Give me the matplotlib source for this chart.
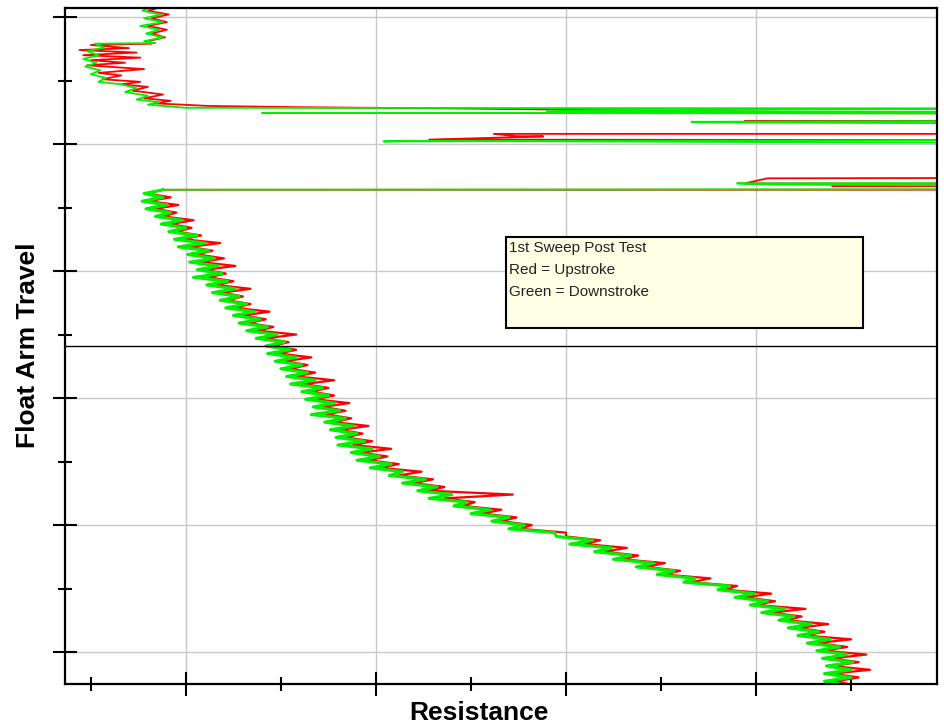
import matplotlib
matplotlib.use("Agg")
import matplotlib.pyplot as plt
from matplotlib.patches import Rectangle

plt.rcParams['font.family'] = ['Liberation Sans', 'DejaVu Sans']

# upper part of the sweeps (incl. the off-scale excursions, 300 = off scale)
green_top_res = [41, 38.5, 43.5, 39, 44, 38, 43, 39.5, 44, 39,
                 42, 26, 28.5, 24, 27, 23, 26.5, 23.5, 27.5, 25,
                 29, 27, 33, 37, 34, 40, 37, 43, 40, 44,
                 50, 300, 156, 145, 300, 70, 300,
                 300, 183, 186, 300,
                 300, 102, 110, 300,
                 300, 195, 204, 300, 300]
green_top_travel = [50.8, 50.5, 50.2, 49.9, 49.6, 49.3, 49.0, 48.7, 48.4, 48.1,
                    47.95, 47.9, 47.6, 47.3, 47.0, 46.7, 46.4, 46.1, 45.8, 45.5,
                    45.2, 44.9, 44.7, 44.4, 44.1, 43.8, 43.5, 43.3, 43.1, 43.0,
                    42.85, 42.8, 42.65, 42.55, 42.5, 42.45, 42.4,
                    41.85, 41.75, 41.7, 41.6,
                    40.35, 40.2, 40.25, 40.05,
                    36.95, 36.9, 36.8, 36.7, 36.45]

red_top_res = [44, 40, 45.5, 41, 45, 40, 45, 41, 44.5, 40,
               41, 25, 35, 22, 37, 23, 38, 25, 34, 24,
               39, 27, 33, 28, 38, 33, 40, 36, 44, 39,
               46, 42, 56, 80, 120, 217, 147, 300,
               300, 197, 217, 300,
               300, 131, 137, 144, 114, 300,
               300, 203, 197, 300,
               300, 220, 300, 300]
red_top_travel = [50.8, 50.5, 50.2, 49.9, 49.6, 49.3, 49.0, 48.7, 48.4, 48.1,
                  47.9, 47.8, 47.55, 47.4, 47.2, 47.0, 46.8, 46.6, 46.4, 46.2,
                  45.9, 45.6, 45.4, 45.1, 44.9, 44.7, 44.5, 44.2, 43.9, 43.6,
                  43.4, 43.2, 43.0, 42.9, 42.8, 42.5, 42.45, 42.4,
                  41.85, 41.8, 41.8, 41.75,
                  40.8, 40.8, 40.62, 40.6, 40.35, 40.3,
                  37.35, 37.3, 36.9, 36.85,
                  36.7, 36.68, 36.65, 36.4]

# main sweep
main_travel = [36.4, 36.1, 35.8, 35.5, 35.2, 34.9, 34.6, 34.3, 34.0, 33.7,
               33.4, 33.1, 32.8, 32.5, 32.2, 31.9, 31.6, 31.3, 31.0, 30.7,
               30.4, 30.1, 29.8, 29.5, 29.2, 28.9, 28.6, 28.3, 28.0, 27.7,
               27.4, 27.1, 26.8, 26.5, 26.2, 25.9, 25.6, 25.3, 25.0, 24.7,
               24.4, 24.1, 23.8, 23.5, 23.2, 22.9, 22.6, 22.3, 22.0, 21.7,
               21.4, 21.1, 20.8, 20.5, 20.2, 19.9, 19.6, 19.3, 19.0, 18.7,
               18.4, 18.1, 17.8, 17.5, 17.2, 16.9, 16.6, 16.3, 16.0, 15.7,
               15.4, 15.1, 14.8, 14.5, 14.2, 13.9, 13.6, 13.3, 13.0, 12.7,
               12.4, 12.1, 11.8, 11.5, 11.2, 10.9, 10.6, 10.3, 10.0, 9.7,
               9.4, 9.1, 8.8, 8.5, 8.2, 7.9, 7.6, 7.3, 7.0, 6.7,
               6.4, 6.1, 5.8, 5.5, 5.2, 4.9, 4.6, 4.3, 4.0, 3.7,
               3.4, 3.1, 2.8, 2.5, 2.2, 1.9, 1.6, 1.3, 1.0, 0.7,
               0.4, 0.1, -0.2, -0.5, -0.8, -1.1, -1.4, -1.7, -2.0, -2.3,
               -2.5]

green_main_res = [44, 39, 44, 38.5, 45, 39.5, 46, 42, 49, 43.5,
                  50, 45.5, 53, 47, 55, 48, 56, 50.5, 57.5, 51,
                  58.5, 53, 59.5, 52, 61, 55.5, 63, 57, 64, 59,
                  66, 60.5, 68, 62.5, 69.5, 64, 71.5, 66, 74, 68.5,
                  76, 71, 77.5, 71.5, 79, 73.5, 80.5, 75, 82, 76.5,
                  84, 77.5, 86, 80.5, 87.5, 81.5, 89, 83.5, 90.5, 83,
                  92, 86.5, 94, 88, 95, 89.5, 97, 90, 99, 93.5,
                  101, 95, 104, 98.5, 107, 103.5, 113, 107, 116, 111,
                  120, 114, 124, 120.5, 130, 125, 135, 130.5, 139, 135,
                  147, 147.5, 157, 151, 162, 157.5, 167, 162.5, 173, 168.5,
                  178.5, 174, 184, 181, 193, 190, 199.5, 194.5, 203, 198.5,
                  207.5, 201.5, 210, 206, 214.5, 208.5, 216.5, 211, 219.5, 213.5,
                  222, 216, 224, 217.5, 225.5, 218.5, 225, 218, 225, 218,
                  222]

red_main_res = [44, 40, 46, 40, 48, 42, 47.5, 44, 52, 46,
                51.5, 47.5, 54, 49.5, 59, 51, 57, 53, 60, 54,
                63, 55, 60.5, 56, 62.5, 58, 67, 59.5, 65, 61,
                67, 63, 72, 65, 71, 66.5, 73, 69, 79, 71,
                77, 73, 79, 74.5, 83, 76, 82, 77.5, 84, 79,
                89, 81, 87.5, 83, 89, 84, 93, 86, 92, 87,
                93.5, 89, 98, 90.5, 96.5, 92, 99, 94, 104, 96,
                103, 98, 106, 101, 112, 106, 115, 110, 118, 114,
                136, 118, 126, 123, 133, 128, 137, 133, 141, 138,
                150, 150, 159, 155, 166, 160, 169, 165, 176, 171,
                180, 176, 188, 183, 195, 192, 204, 197, 205, 200,
                213, 204, 212, 208, 219, 211, 218, 213, 225, 216,
                224, 218, 229, 220, 227, 220, 230, 220, 227, 221,
                224]

ref_travel = 24.1

legend_lines = ["1st Sweep Post Test", "Red = Upstroke", "Green = Downstroke"]


def plot():
    fig = plt.figure(figsize=(9.45, 7.28), dpi=100)
    ax = fig.add_axes([0.0688, 0.0604, 0.9227, 0.9286])

    # top part and off-scale spikes: thin lines
    ax.plot(red_top_res + red_main_res[:1], red_top_travel + main_travel[:1],
            color='#ff0000', lw=1.3)
    ax.plot(green_top_res + green_main_res[:1], green_top_travel + main_travel[:1],
            color='#00f000', lw=1.3)
    # main sweep: dense noisy band
    ax.plot(red_main_res, main_travel, color='#ff0000', lw=1.6)
    ax.plot(green_main_res, main_travel, color='#00f000', lw=2.2)
    ax.axhline(ref_travel, color='black', lw=1)

    ax.set_xlim(18.2, 247.6)
    ax.set_ylim(-2.52, 50.71)
    ax.set_xticks([50, 100, 150, 200])
    ax.set_xticks([25, 75, 125, 175, 225], minor=True)
    ax.set_yticks([0, 10, 20, 30, 40, 50])
    ax.set_yticks([5, 15, 25, 35, 45], minor=True)
    ax.tick_params(which='major', direction='inout', length=17, width=1.5,
                   labelleft=False, labelbottom=False)
    ax.tick_params(which='minor', direction='inout', length=9.5, width=1.5)
    ax.grid(True, which='major', color='#c8c8c8', lw=1)
    ax.set_axisbelow(True)
    for s in ax.spines.values():
        s.set_linewidth(1.6)

    # axis titles placed by hand (no tick labels in the original)
    fig.text(0.507, 0.021, 'Resistance', fontsize=19, fontweight='bold',
             ha='center', va='center')
    fig.text(0.0296, 0.526, 'Float Arm Travel', fontsize=19, fontweight='bold',
             ha='center', va='center', rotation=90)

    ax.add_patch(Rectangle((0.5057, 0.5266), 0.4094, 0.1346, transform=ax.transAxes,
                           facecolor='#ffffe6', edgecolor='black', lw=1.5, zorder=5))
    for i, line in enumerate(legend_lines):
        ax.text(0.509, 0.645 - i * 0.0325, line, transform=ax.transAxes,
                fontsize=11, color='#222222', va='center', ha='left', zorder=6)

    fig.savefig("out.png", dpi=100)


def main():
    plot()


if __name__ == "__main__":
    main()
